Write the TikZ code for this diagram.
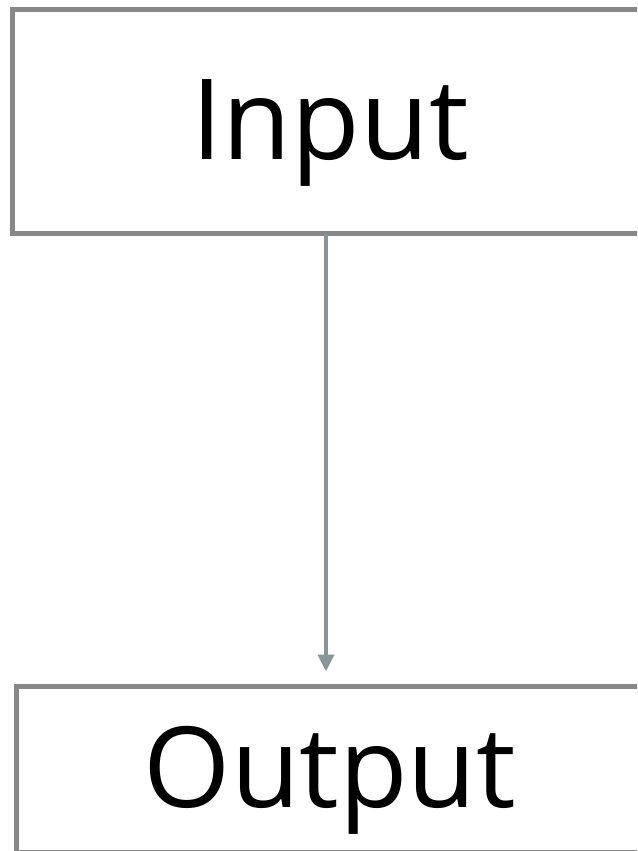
\documentclass[tikz,border=0pt]{standalone}
\usepackage{fontspec}
\setmainfont{Open Sans}
\usetikzlibrary{arrows.meta,positioning}
\definecolor{boxgray}{HTML}{888888}
\definecolor{arrowgray}{HTML}{8A9598}

\begin{document}
\begin{tikzpicture}[x=1pt,y=-1pt,
  box/.style={draw=boxgray,line width=5pt,fill=white,anchor=north west,inner sep=0pt,outer sep=0pt,
    text height=80pt,text depth=5pt,font=\fontsize{112}{134}\selectfont},
  flow/.style={draw=arrowgray,line width=4pt,-{Triangle[width=16pt,length=17pt]}}]
\useasboundingbox(0,0)rectangle(637,851);
\clip(0,0)rectangle(637,851);
\fill[white](0,0)rectangle(637,851);
\node[box,minimum width=635pt,minimum height=224pt](input)at(12.5,9.5){Input};
\node[box,minimum width=627pt,minimum height=166pt](output)at(16.5,686.5){Output};
\draw[flow,shorten >=15pt]([xshift=-4pt]input.south)--([xshift=-4pt]output.north);
\end{tikzpicture}
\end{document}
